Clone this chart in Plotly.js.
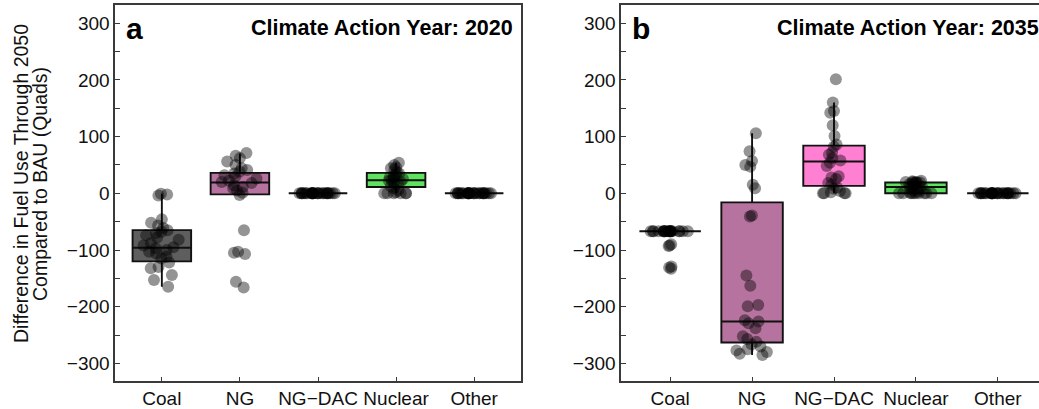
<!DOCTYPE html>
<html><head><meta charset="utf-8">
<script src="https://cdn.plot.ly/plotly-3.0.1.min.js"></script>
<style>html,body{margin:0;padding:0;overflow:hidden;background:#fff}#chart{width:1060px;height:409px}</style>
</head><body><div id="chart"></div><script>
// ---------- data ----------
const categories = ['Coal', 'NG', 'NG\u2212DAC', 'Nuclear', 'Other'];

// Panel a: Climate Action Year 2020 (scenario values, Quads)
const coal2020 = [-1, -2, -4, -46, -52, -57, -61, -65, -68, -70, -74, -78, -82, -88, -92, -95, -97, -100, -103, -106, -112, -115, -122, -130, -132, -144, -153, -165];
const ng2020 = [71, 66, 62, 56, 50, 44, 41, 38, 35, 32, 29, 26, 22, 20, 18, 14, 11, 9, 5, 1, -3, -65, -103, -105, -107, -156, -166];
const ngdac2020 = [0, 0, 0, 0, 0, 0, 0, 0, 0, 0, 0, 0, 0, 0, 0, 0, 0, 0, 0, 0, 0, 0, 0, 0, 0, 0, 0];
const nuclear2020 = [54, 50, 46, 44, 41, 38, 35, 33, 30, 28, 27, 25, 23, 22, 20, 18, 16, 12, 9, 5, 2, 0, 0, 0, 0, 0, 0];
const other2020 = [0, 0, 0, 0, 0, 0, 0, 0, 0, 0, 0, 0, 0, 0, 0, 0, 0, 0, 0, 0, 0, 0, 0, 0, 0, 0, 0];

// Panel b: Climate Action Year 2035
const coal2035 = [-67, -67, -67, -67, -67, -67, -67, -67, -67, -67, -67, -67, -67, -67, -67, -67, -67, -67, -67, -67, -67, -90, -92, -93, -129, -131, -133];
const ng2035 = [106, 74, 57, 50, 47, 15, 9, -39, -41, -145, -163, -197, -199, -224, -226, -229, -238, -252, -257, -262, -266, -270, -275, -277, -280, -283, -285];
const ngdac2035 = [201, 160, 145, 142, 120, 101, 86, 82, 72, 68, 62, 58, 54, 48, 30, 28, 25, 18, 15, 10, 8, 4, 2, 0, 0, 0, 0];
const nuclear2035 = [22, 21, 20, 20, 20, 19, 19, 18, 18, 16, 14, 12, 11, 10, 8, 5, 3, 1, 0, 0, 0, 0, 0, 0, 0, 0, 0];
const other2035 = [0, 0, 0, 0, 0, 0, 0, 0, 0, 0, 0, 0, 0, 0, 0, 0, 0, 0, 0, 0, 0, 0, 0, 0, 0, 0, 0];

// Box statistics as drawn (per category)
const q1_2020 = [-120, -2, 0, 11, 0];
const median2020 = [-96, 19, 0, 23, 0];
const q3_2020 = [-65, 36, 0, 36, 0];
const lower2020 = [-165, -2, 0, 0, 0];
const upper2020 = [-1, 70, 0, 54, 0];

const q1_2035 = [-67, -263, 13, 0, 0];
const median2035 = [-67, -226, 56, 11, 0];
const q3_2035 = [-67, -16, 84, 19, 0];
const lower2035 = [-67, -285, 0, 0, 0];
const upper2035 = [-67, 106, 160, 22, 0];

const yTickVals = [-300, -200, -100, 0, 100, 200, 300];
const yTitleLines = ['Difference in Fuel Use Through 2050', 'Compared to BAU (Quads)'];
const panelLetters = ['a', 'b'];
const panelTitles = ['Climate Action Year: 2020', 'Climate Action Year: 2035'];

// ---------- styles ----------
const fillColors = ['#5e5e5e', '#b7739f', '#ff80d2', '#5fe25f', '#ffffff'];
const W = 1060, H = 409;
const FONT = 'Liberation Sans, Arial, Helvetica, sans-serif';

const panels = [
  {xa: 'x', ya: 'y', samples: [coal2020, ng2020, ngdac2020, nuclear2020, other2020],
   q1: q1_2020, med: median2020, q3: q3_2020, lo: lower2020, hi: upper2020},
  {xa: 'x2', ya: 'y2', samples: [coal2035, ng2035, ngdac2035, nuclear2035, other2035],
   q1: q1_2035, med: median2035, q3: q3_2035, lo: lower2035, hi: upper2035}
];

const traces = [];
panels.forEach(p => {
  categories.forEach((c, i) => {
    traces.push({
      type: 'box', orientation: 'v', xaxis: p.xa, yaxis: p.ya,
      x: [c], q1: [p.q1[i]], median: [p.med[i]], q3: [p.q3[i]],
      lowerfence: [p.lo[i]], upperfence: [p.hi[i]],
      boxpoints: false, width: 0.75, whiskerwidth: 0,
      fillcolor: fillColors[i], line: {color: '#111', width: 1.9},
      hoverinfo: 'skip'
    });
  });
  categories.forEach((c, i) => {
    const vals = p.samples[i];
    traces.push({
      type: 'box', xaxis: p.xa, yaxis: p.ya,
      x: vals.map(() => c), y: vals,
      boxpoints: 'all', jitter: 0.65, pointpos: 0, width: 0.75,
      fillcolor: 'rgba(0,0,0,0)', line: {color: 'rgba(0,0,0,0)', width: 0},
      marker: {color: 'rgba(0,0,0,0.42)', size: 12, line: {width: 0}},
      hoverinfo: 'y'
    });
  });
});

function xAxis(domain, anchor) {
  return {
    domain: domain, anchor: anchor, type: 'category',
    categoryorder: 'array', categoryarray: categories, range: [-0.6, 4.6],
    showline: true, mirror: true, linecolor: '#3a3a3a', linewidth: 1.6,
    ticks: 'inside', ticklen: 4, tickcolor: '#3a3a3a', tickwidth: 1,
    showgrid: false, zeroline: false, tickfont: {size: 19, color: '#111'}
  };
}
function yAxis(anchor) {
  return {
    domain: [28 / H, 404 / H], anchor: anchor, range: [-331, 332],
    tickmode: 'array', tickvals: yTickVals,
    ticks: 'inside', ticklen: 5, tickcolor: '#3a3a3a', tickwidth: 1,
    minor: {dtick: 50, ticks: 'inside', ticklen: 5, tickcolor: '#3a3a3a', showgrid: false},
    showline: true, mirror: true, linecolor: '#3a3a3a', linewidth: 1.6,
    showgrid: false, zeroline: false, tickfont: {size: 19, color: '#111'}
  };
}

const annotations = [];
['x', 'x2'].forEach((xa, k) => {
  const ya = k === 0 ? 'y' : 'y2';
  annotations.push({xref: xa + ' domain', yref: ya + ' domain', x: 0, y: 1 - 24 / 376,
    xanchor: 'left', yanchor: 'middle', xshift: 9, text: '<b>' + panelLetters[k] + '</b>',
    font: {size: 30, color: '#000'}, showarrow: false});
  annotations.push({xref: xa + ' domain', yref: ya + ' domain', x: 1, y: 1 - 23 / 376,
    xanchor: 'right', yanchor: 'middle', xshift: -6, text: '<b>' + panelTitles[k] + '</b>',
    font: {size: 21.5, color: '#000'}, showarrow: false});
});
// y-axis title (two lines, rotated)
yTitleLines.forEach((t, j) => {
  annotations.push({xref: 'paper', yref: 'paper', x: (j === 0 ? 21 : 40) / W, y: 1 - 184 / H,
    xanchor: 'center', yanchor: 'middle', textangle: -90, text: t,
    font: {size: 19.5, color: '#111'}, showarrow: false});
});

const layout = {
  width: W, height: H, margin: {l: 0, r: 0, t: 0, b: 0},
  paper_bgcolor: '#fff', plot_bgcolor: '#fff', showlegend: false,
  font: {family: FONT, size: 19, color: '#111'},
  boxmode: 'overlay',
  xaxis: xAxis([115 / W, 521 / W], 'y'),
  yaxis: yAxis('x'),
  xaxis2: xAxis([621 / W, 1047 / W], 'y2'),
  yaxis2: yAxis('x2'),
  annotations: annotations
};

Plotly.newPlot('chart', traces, layout, {displayModeBar: false, staticPlot: true});
</script></body></html>
